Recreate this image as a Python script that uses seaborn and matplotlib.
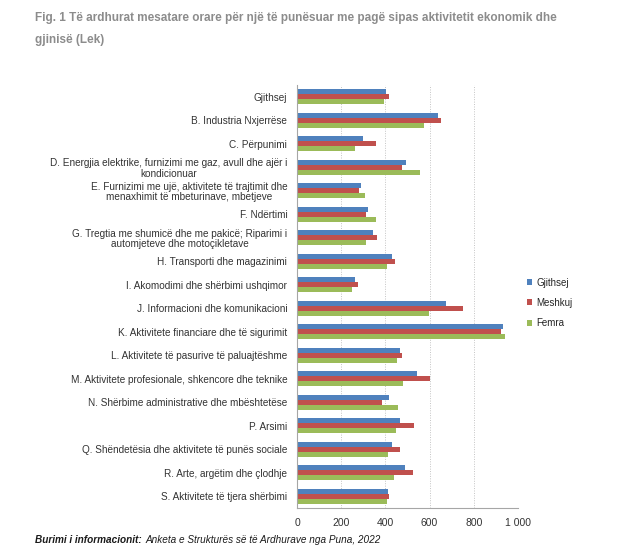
"""Fig. 1: të ardhurat mesatare orare sipas aktivitetit ekonomik dhe gjinisë."""

import matplotlib

matplotlib.use("Agg")
import matplotlib.pyplot as plt
import numpy as np
import pandas as pd
import seaborn as sns
from matplotlib.ticker import FixedLocator, FuncFormatter

CATEGORIES = [
    "Gjithsej",
    "B. Industria Nxjerrëse",
    "C. Përpunimi",
    "D. Energjia elektrike, furnizimi me gaz, avull dhe ajër i\nkondicionuar",
    "E. Furnizimi me ujë, aktivitete të trajtimit dhe\nmenaxhimit të mbeturinave, mbetjeve",
    "F. Ndërtimi",
    "G. Tregtia me shumicë dhe me pakicë; Riparimi i\nautomjeteve dhe motoçikletave",
    "H. Transporti dhe magazinimi",
    "I. Akomodimi dhe shërbimi ushqimor",
    "J. Informacioni dhe komunikacioni",
    "K. Aktivitete financiare dhe të sigurimit",
    "L. Aktivitete të pasurive të paluajtëshme",
    "M. Aktivitete profesionale, shkencore dhe teknike",
    "N. Shërbime administrative dhe mbështetëse",
    "P. Arsimi",
    "Q. Shëndetësia dhe aktivitete të punës sociale",
    "R. Arte, argëtim dhe çlodhje",
    "S. Aktivitete të tjera shërbimi",
]
SERIES = ["Gjithsej", "Meshkuj", "Femra"]
GJITHSEJ = [404, 639, 300, 493, 288, 321, 342, 430, 262, 674, 933, 467, 543, 416, 467, 430, 488, 413]
MESHKUJ = [416, 652, 359, 476, 279, 312, 363, 443, 276, 752, 922, 476, 601, 383, 531, 464, 526, 417]
FEMRA = [393, 576, 264, 556, 309, 359, 312, 408, 249, 597, 940, 451, 479, 455, 446, 413, 437, 408]
X_TICKS = [0, 200, 400, 600, 800, 1000]
COLORS = ["#4F81BD", "#C0504D", "#9BBB59"]

df = pd.DataFrame({
    "kategoria": CATEGORIES * 3,
    "seria": [s for s in SERIES for _ in CATEGORIES],
    "vlera": GJITHSEJ + MESHKUJ + FEMRA,
})

sns.set_theme(style="white")
plt.rcParams["font.family"] = ["Liberation Sans", "DejaVu Sans"]

fig = plt.figure(figsize=(6.22, 5.5), dpi=100, facecolor="white")
ax = fig.add_axes([0.4775, 0.0764, 0.3553, 0.7691])

sns.barplot(
    data=df, x="vlera", y="kategoria", hue="seria", orient="h",
    palette=COLORS, width=0.64, saturation=1, linewidth=0, ax=ax, errorbar=None,
)

ax.set_xlim(0, 1000)
ax.set_ylim(len(CATEGORIES) - 0.5, -0.5)
ax.set_xlabel("")
ax.set_ylabel("")
ax.xaxis.set_major_locator(FixedLocator(X_TICKS))
ax.xaxis.set_major_formatter(FuncFormatter(lambda v, _: f"{int(v):,}".replace(",", " ")))
ax.grid(axis="x", linestyle=(0, (1, 1.5)), linewidth=0.7, color="#c4c4c4")
ax.set_axisbelow(True)

for name in ("top", "right"):
    ax.spines[name].set_visible(False)
for name in ("left", "bottom"):
    ax.spines[name].set_color("#a6a6a6")
    ax.spines[name].set_linewidth(0.8)

ax.tick_params(axis="y", which="major", length=0, pad=7, labelsize=7.2, labelcolor="#333333")
ax.yaxis.set_minor_locator(FixedLocator(np.arange(-0.5, len(CATEGORIES), 1.0)))
ax.tick_params(axis="y", which="minor", length=3, color="#a6a6a6", direction="out")
ax.tick_params(axis="x", length=3, color="#a6a6a6", direction="out", labelsize=7.5,
               labelcolor="#333333", pad=4)
for lbl in ax.get_yticklabels():
    lbl.set_multialignment("center")
    lbl.set_linespacing(1.05)

handles, labels = ax.get_legend_handles_labels()
ax.legend(
    handles, labels, loc="center left", bbox_to_anchor=(1.0, 0.485),
    frameon=False, fontsize=7, handlelength=0.55, handleheight=0.55,
    handletextpad=0.45, labelspacing=1.05,
)

fig.text(
    0.056, 0.968, "Fig. 1 Të ardhurat mesatare orare për një të punësuar me pagë sipas aktivitetit ekonomik dhe",
    fontsize=8.5, fontweight="bold", color="#8c8c8c", va="center",
)
fig.text(0.056, 0.927, "gjinisë (Lek)", fontsize=8.5, fontweight="bold", color="#8c8c8c", va="center")

src = fig.text(0.056, 0.018, "Burimi i informacionit:", fontsize=7.2, fontweight="bold",
               fontstyle="italic", color="#1a1a1a", va="center")
fig.canvas.draw()
bb = src.get_window_extent().transformed(fig.transFigure.inverted())
fig.text(bb.x1 + 0.006, 0.018, "Anketa e Strukturës së të Ardhurave nga Puna, 2022",
         fontsize=7.2, fontstyle="italic", color="#1a1a1a", va="center")

fig.savefig("out.png", dpi=100, facecolor="white")
plt.close(fig)
